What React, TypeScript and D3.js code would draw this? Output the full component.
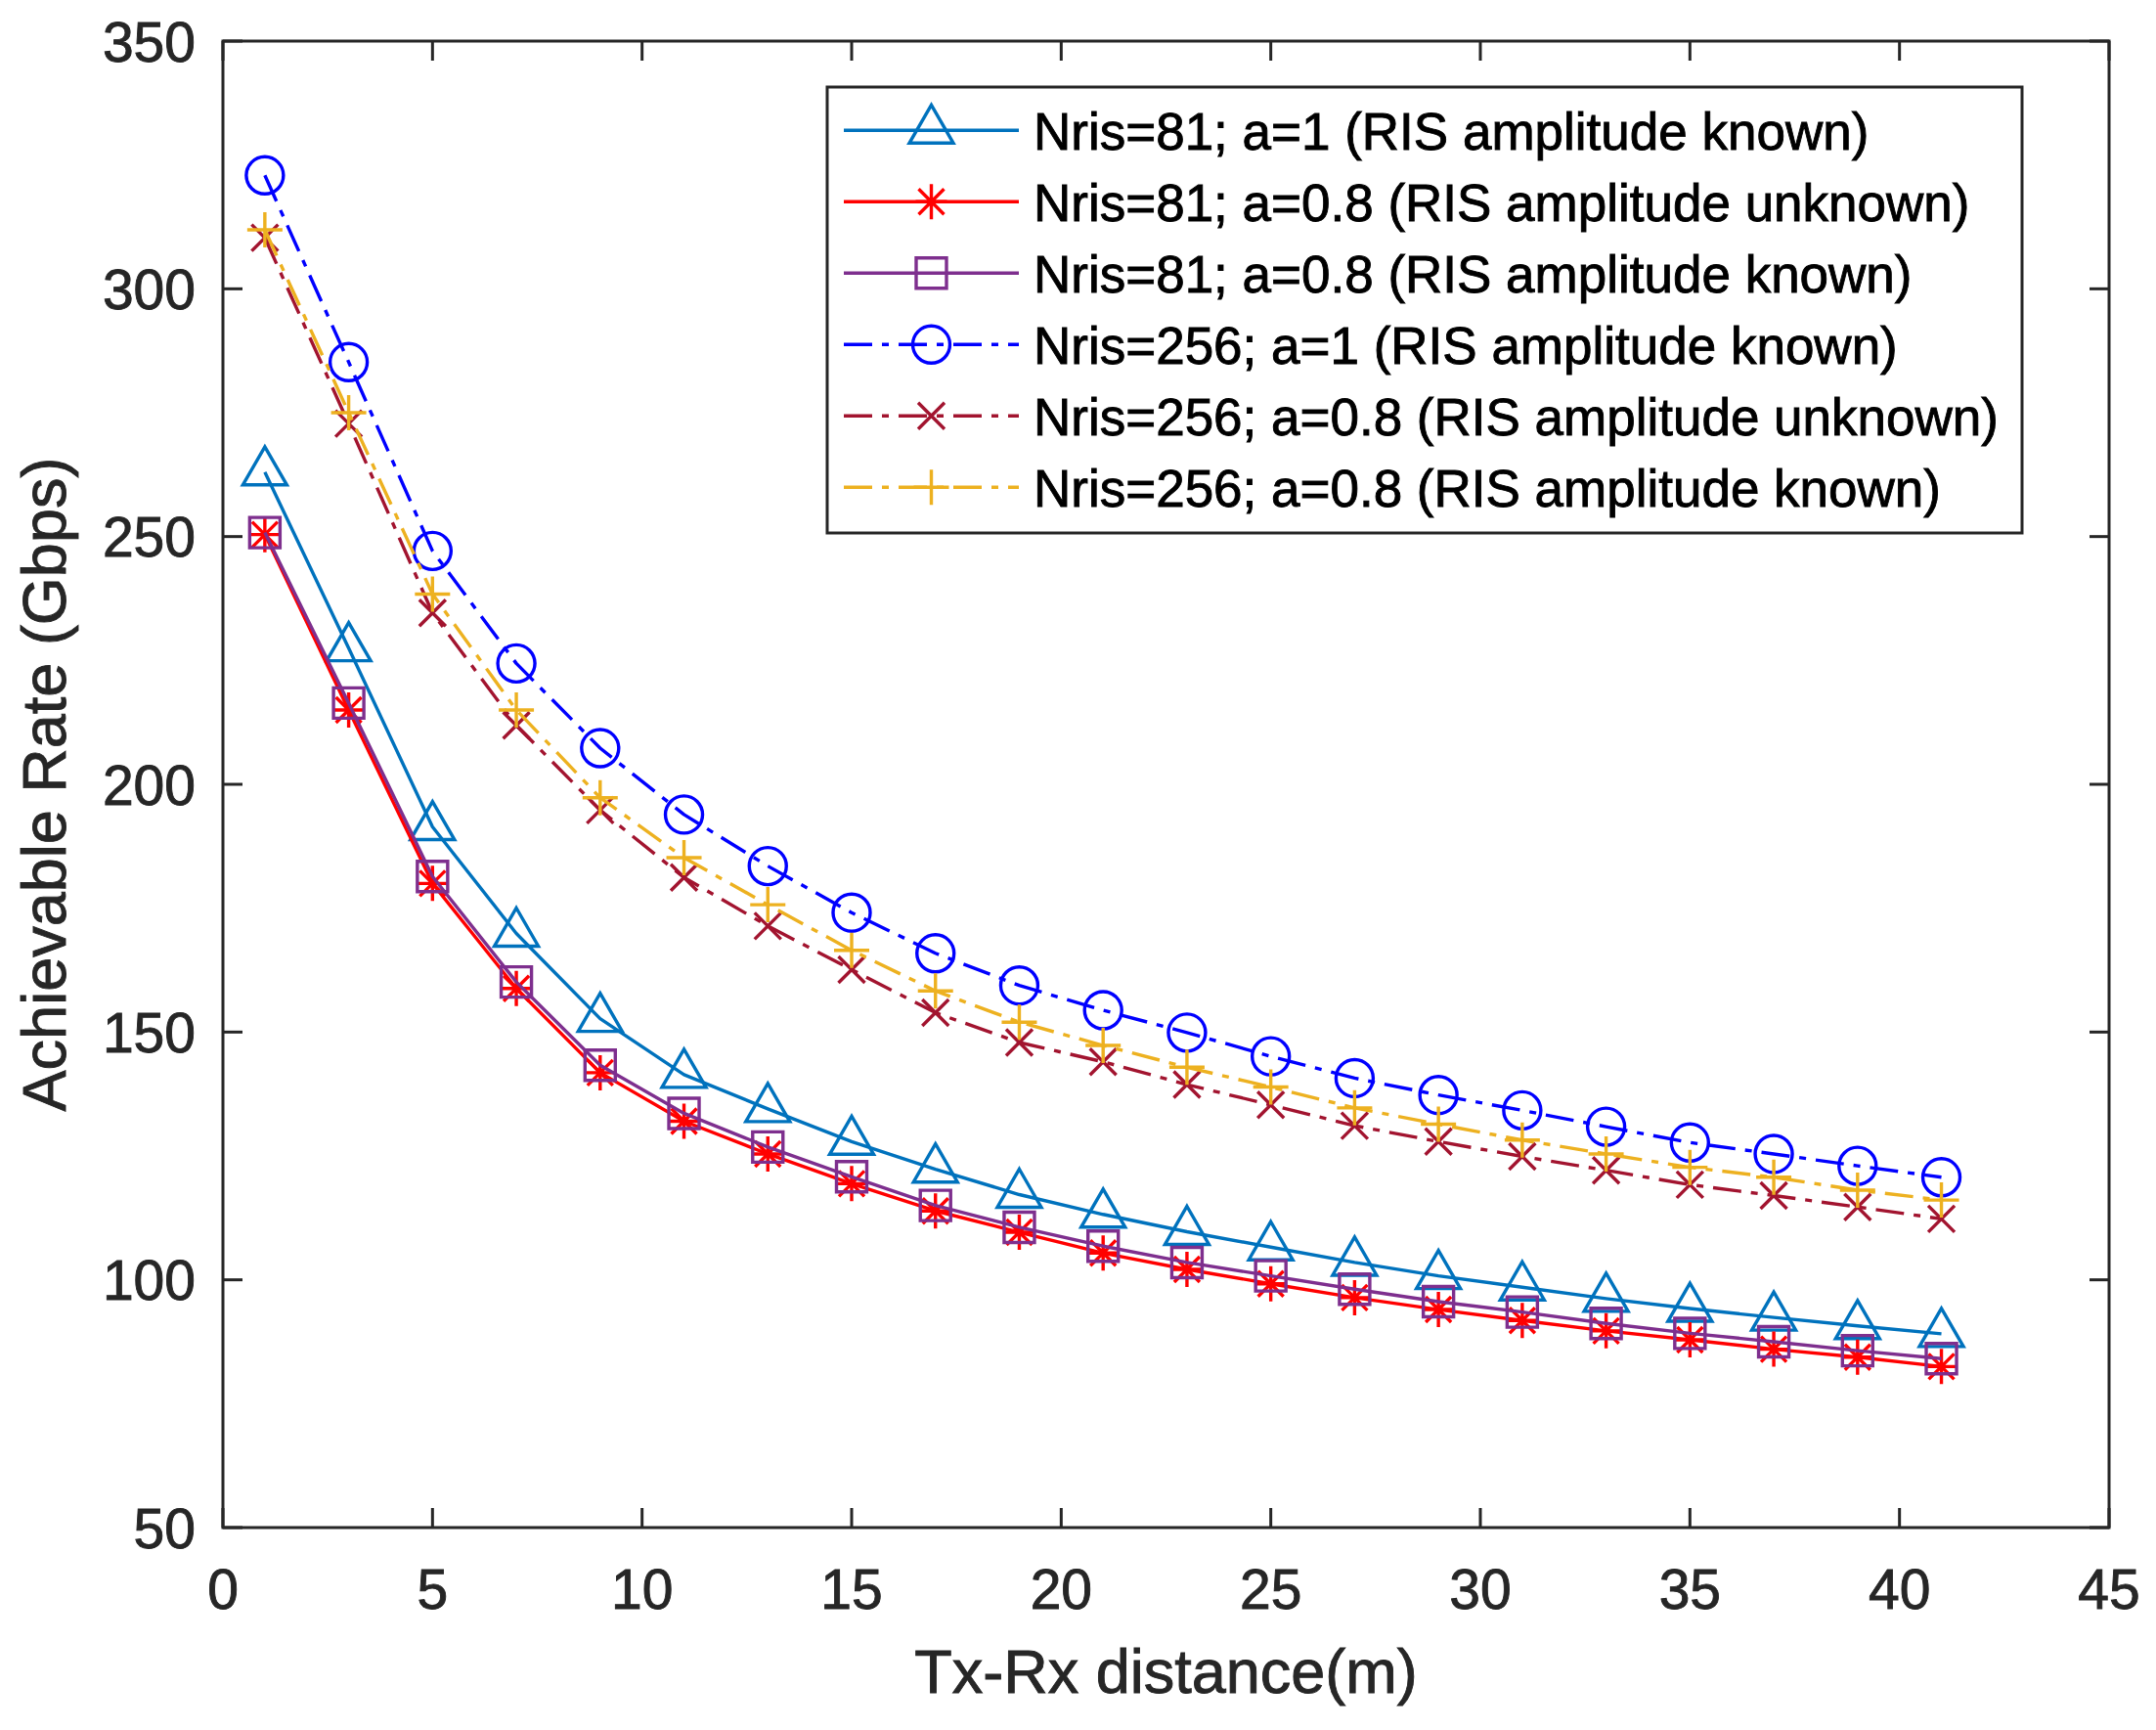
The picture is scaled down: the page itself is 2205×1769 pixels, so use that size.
import React from "react";
import * as d3 from "d3";

const distances = [1, 3, 5, 7, 9, 11, 13, 15, 17, 19, 21, 23, 25, 27, 29, 31, 33, 35, 37, 39, 41];

const nris81A1Known = [263.0, 227.5, 191.4, 169.9, 152.7, 141.4, 134.5, 127.9, 122.3, 117.2, 113.2, 109.7, 106.6, 103.5, 100.8, 98.5, 96.2, 94.2, 92.4, 90.7, 89.1];
const nris81A08Unknown = [250.4, 215.0, 180.0, 158.8, 141.8, 132.0, 125.4, 119.4, 113.9, 109.6, 105.4, 102.1, 99.2, 96.4, 94.0, 91.8, 89.7, 87.9, 86.0, 84.4, 82.5];
const nris81A08Known = [250.8, 216.4, 181.4, 160.1, 143.3, 133.6, 126.8, 120.8, 115.0, 110.6, 106.8, 103.5, 100.8, 98.1, 95.6, 93.5, 91.2, 89.2, 87.5, 85.7, 84.1];
const nris256A1Known = [322.9, 285.2, 247.1, 224.4, 207.3, 193.9, 183.5, 174.1, 165.9, 159.4, 154.4, 149.9, 145.1, 140.7, 137.3, 134.2, 130.9, 127.7, 125.4, 123.0, 120.7];
const nris256A08Unknown = [310.3, 272.8, 234.6, 211.9, 194.8, 181.2, 171.4, 162.6, 153.9, 147.9, 144.0, 139.4, 135.3, 131.1, 127.9, 124.9, 122.1, 119.2, 117.0, 114.7, 112.3];
const nris256A08Known = [311.9, 275.0, 238.4, 215.0, 197.3, 185.2, 175.7, 166.5, 158.3, 152.0, 147.3, 142.9, 138.9, 134.7, 131.4, 128.2, 125.4, 122.7, 120.7, 118.1, 116.1];

const seriesLabels = [
  "Nris=81; a=1 (RIS amplitude known)",
  "Nris=81; a=0.8 (RIS amplitude unknown)",
  "Nris=81; a=0.8 (RIS amplitude known)",
  "Nris=256; a=1 (RIS amplitude known)",
  "Nris=256; a=0.8 (RIS amplitude unknown)",
  "Nris=256; a=0.8 (RIS amplitude known)",
];
const seriesValues = [nris81A1Known, nris81A08Unknown, nris81A08Known, nris256A1Known, nris256A08Unknown, nris256A08Known];
const seriesColors = ["#0072BD", "#FF0000", "#7E2F8E", "#0000FF", "#A2142F", "#EDB120"];
const seriesMarkers = ["triangle", "star", "square", "circle", "x", "plus"];
const seriesDashed = [false, false, false, true, true, true];

const xTicks = [0, 5, 10, 15, 20, 25, 30, 35, 40, 45];
const yTicks = [50, 100, 150, 200, 250, 300, 350];

const W = 2205;
const H = 1769;
const M = { left: 228, right: 2157, top: 42, bottom: 1562 };
const FONT = "'Liberation Sans', Arial, Helvetica, sans-serif";
const AXIS = "#262626";
const DASH = "29 10 7 10";
const LW = 3.4;

function markerPath(kind: string): string {
  switch (kind) {
    case "triangle":
      return "M0,-26L22.5,13L-22.5,13Z";
    case "square":
      return "M-15.5,-15.5H15.5V15.5H-15.5Z";
    case "star":
      return "M0,-18V18M-16,0H16M-13,-13L13,13M-13,13L13,-13";
    case "x":
      return "M-13.5,-13.5L13.5,13.5M-13.5,13.5L13.5,-13.5";
    case "plus":
      return "M0,-18V18M-18,0H18";
    default:
      return "";
  }
}

function Marker({ kind, x, y, color }: { kind: string; x: number; y: number; color: string }) {
  if (kind === "circle") {
    return <circle cx={x} cy={y} r={19} fill="none" stroke={color} strokeWidth={LW} />;
  }
  return (
    <path
      d={markerPath(kind)}
      transform={`translate(${x},${y})`}
      fill="none"
      stroke={color}
      strokeWidth={LW}
      strokeLinejoin="miter"
    />
  );
}

export default function App() {
  const x = d3.scaleLinear().domain([0, 45]).range([M.left, M.right]);
  const y = d3.scaleLinear().domain([50, 350]).range([M.bottom, M.top]);
  const line = d3
    .line<number>()
    .x((_, i) => x(distances[i]))
    .y((d) => y(d));

  const legend = { x0: 846, y0: 89, x1: 2068, y1: 545, row0: 133.3, rowStep: 73, lineX0: 863, lineX1: 1042, textX: 1057 };
  const tickLen = 20;
  const textStroke = { stroke: "currentColor", strokeWidth: 0.9 };

  return (
    <div>
      <style>{`body{margin:0;background:#fff}`}</style>
      <svg width={W} height={H} viewBox={`0 0 ${W} ${H}`} style={{ display: "block", background: "#fff" }}>
        <rect x={0} y={0} width={W} height={H} fill="#fff" />

        {/* series */}
        {seriesValues.map((vals, si) => (
          <g key={si}>
            <path
              d={line(vals) || ""}
              fill="none"
              stroke={seriesColors[si]}
              strokeWidth={LW}
              strokeDasharray={seriesDashed[si] ? DASH : undefined}
              strokeLinejoin="round"
            />
            {vals.map((v, i) => (
              <Marker key={i} kind={seriesMarkers[si]} x={x(distances[i])} y={y(v)} color={seriesColors[si]} />
            ))}
          </g>
        ))}

        {/* axes box */}
        <rect
          x={M.left}
          y={M.top}
          width={M.right - M.left}
          height={M.bottom - M.top}
          fill="none"
          stroke={AXIS}
          strokeWidth={3}
        />
        {xTicks.map((t) => (
          <g key={"xt" + t}>
            <line x1={x(t)} x2={x(t)} y1={M.bottom} y2={M.bottom - tickLen} stroke={AXIS} strokeWidth={3} />
            <line x1={x(t)} x2={x(t)} y1={M.top} y2={M.top + tickLen} stroke={AXIS} strokeWidth={3} />
            <text
              x={x(t)}
              y={1644.5}
              textAnchor="middle"
              fontFamily={FONT}
              fontSize={57}
              fill={AXIS}
              color={AXIS}
              {...textStroke}
            >
              {t}
            </text>
          </g>
        ))}
        {yTicks.map((t) => (
          <g key={"yt" + t}>
            <line x1={M.left} x2={M.left + tickLen} y1={y(t)} y2={y(t)} stroke={AXIS} strokeWidth={3} />
            <line x1={M.right} x2={M.right - tickLen} y1={y(t)} y2={y(t)} stroke={AXIS} strokeWidth={3} />
            <text
              x={200}
              y={y(t) + 20.5}
              textAnchor="end"
              fontFamily={FONT}
              fontSize={57}
              fill={AXIS}
              color={AXIS}
              {...textStroke}
            >
              {t}
            </text>
          </g>
        ))}

        {/* axis labels */}
        <text
          x={(M.left + M.right) / 2}
          y={1731}
          textAnchor="middle"
          fontFamily={FONT}
          fontSize={63}
          fill={AXIS}
          color={AXIS}
          {...textStroke}
        >
          Tx-Rx distance(m)
        </text>
        <text
          transform={`translate(67,${(M.top + M.bottom) / 2}) rotate(-90)`}
          textAnchor="middle"
          fontFamily={FONT}
          fontSize={63}
          fill={AXIS}
          color={AXIS}
          {...textStroke}
        >
          Achievable Rate (Gbps)
        </text>

        {/* legend */}
        <rect
          x={legend.x0}
          y={legend.y0}
          width={legend.x1 - legend.x0}
          height={legend.y1 - legend.y0}
          fill="#fff"
          stroke={AXIS}
          strokeWidth={3}
        />
        {seriesLabels.map((lab, si) => {
          const ry = legend.row0 + si * legend.rowStep;
          return (
            <g key={"lg" + si}>
              <line
                x1={legend.lineX0}
                x2={legend.lineX1}
                y1={ry}
                y2={ry}
                stroke={seriesColors[si]}
                strokeWidth={LW}
                strokeDasharray={seriesDashed[si] ? DASH : undefined}
              />
              <Marker kind={seriesMarkers[si]} x={(legend.lineX0 + legend.lineX1) / 2} y={ry} color={seriesColors[si]} />
              <text
                x={legend.textX}
                y={ry + 19.5}
                fontFamily={FONT}
                fontSize={53}
                fill="#000"
                color="#000"
                {...textStroke}
              >
                {lab}
              </text>
            </g>
          );
        })}
      </svg>
    </div>
  );
}
